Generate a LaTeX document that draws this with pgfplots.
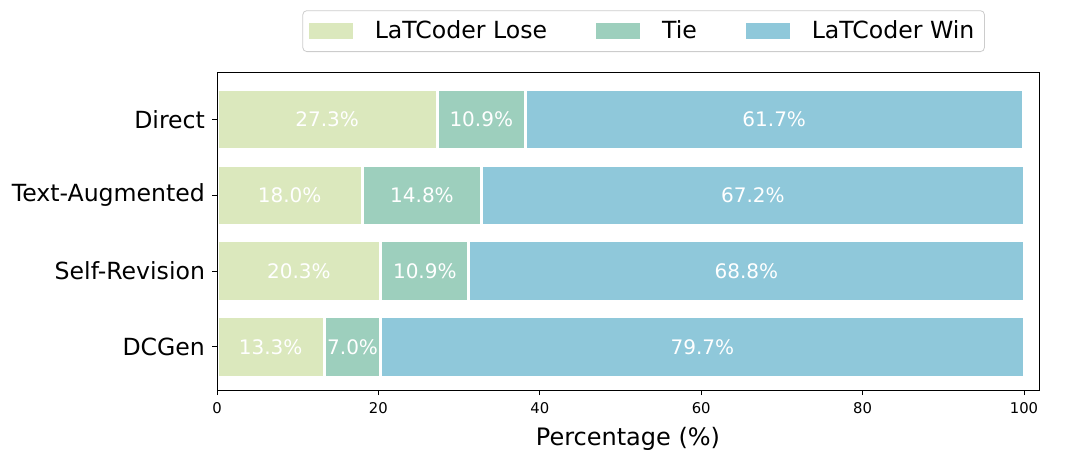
\documentclass[border=0pt]{standalone}
\usepackage{pgfplots}
\pgfplotsset{compat=1.18}
\usepackage{fontspec}
\setmainfont{DejaVu Sans}
\definecolor{loseC}{HTML}{DBE8BD}
\definecolor{tieC}{HTML}{9DCFBD}
\definecolor{winC}{HTML}{8FC8DA}
\begin{document}
\begin{tikzpicture}
\pgfplotsset{
  common/.style={
    scale only axis, width=411pt, height=159pt,
    xmin=0, xmax=101.86, ymin=-0.57, ymax=3.63,
  },
  patch/.style={legend image code/.code={\fill[##1,draw=none,sharp corners] (0pt,-4pt) rectangle (22pt,4pt);}},
}
\begin{axis}[
  common, name=ax, axis on top,
  xbar stacked, bar width=0.8,
  ytick={0,1,2,3},
  yticklabels={DCGen,Self-Revision,Text-Augmented,Direct},
  xtick={0,20,40,60,80,100},
  tick align=outside, tick pos=left, major tick length=2.5pt,
  tick style={black, line width=0.4pt},
  /pgf/number format/assume math mode=true,
  xticklabel style={font=\fontsize{7.4}{8}\selectfont},
  yticklabel style={font=\fontsize{11.8}{13}\selectfont},
  xlabel={Percentage (\%)},
  xlabel style={font=\fontsize{12}{13}\selectfont, at={(axis description cs:0.5,0)}, anchor=north, yshift=-15pt},
  legend columns=3,
  legend style={at={(0.519,1)}, anchor=south, yshift=10pt, draw=black!20, rounded corners=2pt,
    font=\fontsize{11.8}{13}\selectfont, inner xsep=3pt, inner ysep=3pt,
    /tikz/every even column/.append style={column sep=22.5pt},
    /tikz/every odd column/.append style={column sep=9pt}},
  legend cell align=left,
]
\addplot[fill=loseC, draw=white, line width=1.5pt, patch] coordinates {(13.3,0) (20.3,1) (18.0,2) (27.3,3)};
\addplot[fill=tieC, draw=white, line width=1.5pt, patch] coordinates {(7.0,0) (10.9,1) (14.8,2) (10.9,3)};
\addplot[fill=winC, draw=white, line width=1.5pt, patch] coordinates {(79.7,0) (68.8,1) (67.2,2) (61.7,3)};
\legend{LaTCoder Lose, Tie, LaTCoder Win}
\end{axis}
\begin{axis}[common, hide axis]
\addplot[only marks, mark=none, nodes near coords, point meta=explicit symbolic,
  nodes near coords style={anchor=center, text=white, font=\fontsize{10}{12}\selectfont}]
  coordinates {
  (6.65,0) [13.3\%] (16.8,0) [7.0\%] (60.15,0) [79.7\%]
  (10.15,1) [20.3\%] (25.75,1) [10.9\%] (65.6,1) [68.8\%]
  (9.0,2) [18.0\%] (25.4,2) [14.8\%] (66.4,2) [67.2\%]
  (13.65,3) [27.3\%] (32.75,3) [10.9\%] (69.05,3) [61.7\%]
  };
\end{axis}
\path ([shift={(-108.5pt,-35.5pt)}]ax.south west) rectangle ([shift={(20pt,36pt)}]ax.north east);
\end{tikzpicture}
\end{document}
